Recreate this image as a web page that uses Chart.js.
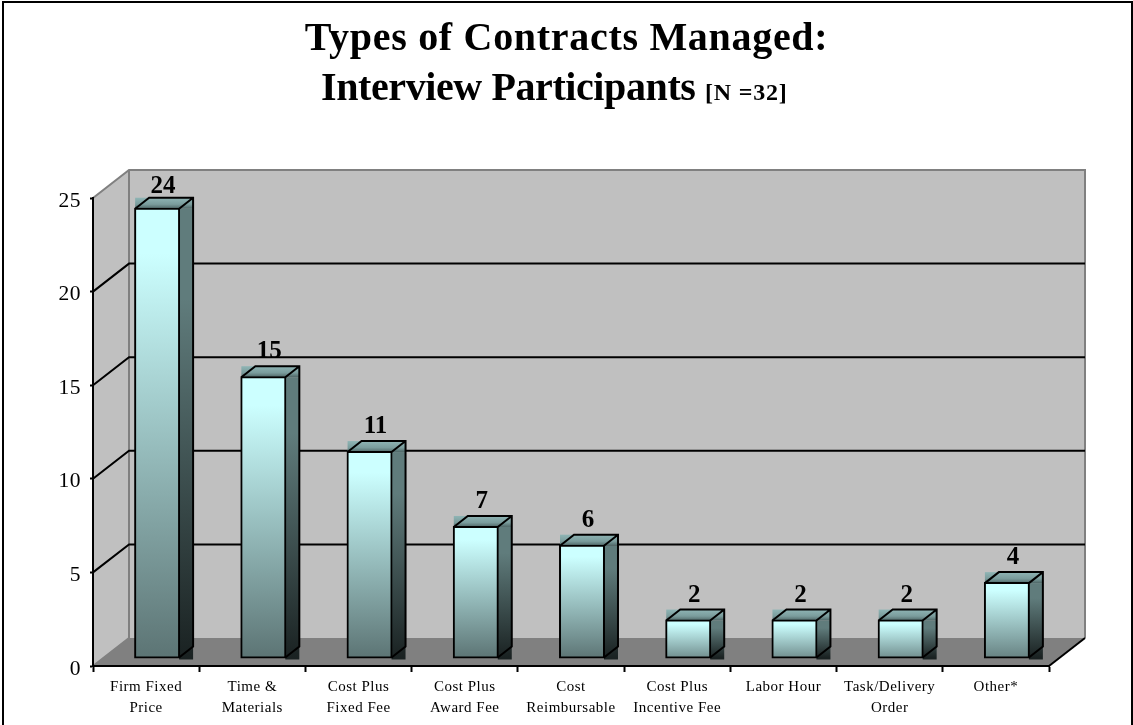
<!DOCTYPE html>
<html><head><meta charset="utf-8">
<style>html,body{margin:0;padding:0;background:#fff}canvas{display:block}</style>
<script src="https://cdn.jsdelivr.net/npm/chart.js@4"></script></head>
<body><div style="width:1133px;height:725px"><canvas id="c" width="1133" height="725"></canvas></div>
<script>
const categories=[["Firm Fixed","Price"],["Time &","Materials"],["Cost Plus","Fixed Fee"],["Cost Plus","Award Fee"],["Cost","Reimbursable"],["Cost Plus","Incentive Fee"],["Labor Hour"],["Task/Delivery","Order"],["Other*"]];
const values=[24,15,11,7,6,2,2,2,4];
const yMax=25, yStep=5;
const titleLine1="Types of Contracts Managed:";
const titleLine2="Interview Participants";
const titleNote="[N =32]";
const SERIF='"Liberation Serif", serif';
const WALL={dx:36,dy:-28}, FRONT={dx:11,dy:-8}, SIDE={dx:14,dy:-11};

function mix(a,b,t){return a.map((v,i)=>Math.round(v+(b[i]-v)*t));}
function rgb(c){return `rgb(${c[0]},${c[1]},${c[2]})`;}
function frontFill(ctx){
  if(ctx.type!=='data')return '#ccffff';
  const c=ctx.chart, y=c.scales.y; if(!y)return '#ccffff';
  const v=values[ctx.dataIndex], top=y.getPixelForValue(v), bot=y.getPixelForValue(0);
  if(!isFinite(top)||!isFinite(bot)||top===bot)return '#ccffff';
  const g=c.ctx.createLinearGradient(0,top,0,bot);
  const t=Math.min(1,0.72+0.045*v);
  g.addColorStop(0,'#ccffff');
  g.addColorStop(0.1,'#ccffff');
  g.addColorStop(1,rgb(mix([204,255,255],[92,116,116],t)));
  return g;
}
const deco={id:'deco',
 beforeDraw(c){
  const g=c.ctx,x=c.scales.x,y=c.scales.y,L=x.left,R=x.right,T=y.getPixelForValue(yMax),B=y.getPixelForValue(0);
  const dx=WALL.dx,dy=WALL.dy;
  g.letterSpacing='0.5px';
  g.save();
  g.fillStyle='#fff';g.fillRect(0,0,c.width,c.height);
  g.strokeStyle='#000';g.lineWidth=2;g.strokeRect(3,2,1129,740);
  g.fillStyle='#000';g.textBaseline='alphabetic';
  g.font='bold 40px '+SERIF;g.textAlign='center';g.letterSpacing='0.7px';
  g.fillText(titleLine1,566.5,50);
  g.textAlign='left';g.letterSpacing='-0.4px';
  g.fillText(titleLine2,321,100);
  g.font='bold 24px '+SERIF;g.letterSpacing='0.8px';
  g.fillText(titleNote,705,100);
  g.fillStyle='#c0c0c0';
  g.fillRect(L+dx,T+dy,R-L,B-T);
  g.beginPath();g.moveTo(L,T);g.lineTo(L+dx,T+dy);g.lineTo(L+dx,B+dy);g.lineTo(L,B);g.closePath();g.fill();
  g.fillStyle='#808080';
  g.beginPath();g.moveTo(L,B);g.lineTo(R,B);g.lineTo(R+dx,B+dy);g.lineTo(L+dx,B+dy);g.closePath();g.fill();
  g.strokeStyle='#808080';g.lineWidth=2;
  g.beginPath();g.moveTo(L,T);g.lineTo(L+dx,T+dy);g.lineTo(R+dx,T+dy);g.lineTo(R+dx,B+dy);
  g.moveTo(L+dx,T+dy);g.lineTo(L+dx,B+dy);g.lineTo(L,B);g.stroke();
  g.strokeStyle='#000';g.lineWidth=2;
  for(let v=yStep;v<yMax;v+=yStep){
   const p=y.getPixelForValue(v);
   g.beginPath();g.moveTo(L,p);g.lineTo(L+dx,p+dy);g.lineTo(R+dx,p+dy);g.stroke();
  }
  g.beginPath();g.moveTo(R,B);g.lineTo(R+dx,B+dy);g.stroke();
  g.restore();
 },
 beforeDatasetsDraw(c){
  const g=c.ctx,m=c.getDatasetMeta(0),sx=SIDE.dx,sy=SIDE.dy;
  m.data.forEach(b=>{
   const l=b.x-b.width/2+FRONT.dx,r=b.x+b.width/2+FRONT.dx,t=b.y+FRONT.dy,o=b.base+FRONT.dy;
   let s=g.createLinearGradient(0,t,0,o);
   s.addColorStop(0,'#607c7c');s.addColorStop(0.2,'#607c7c');s.addColorStop(1,'#1a2222');
   g.fillStyle=s;g.fillRect(r,t,sx,o-t+2);
   s=g.createLinearGradient(0,t+sy,0,t);
   s.addColorStop(0,'#8fb5b5');s.addColorStop(0.6,'#7a9c9c');s.addColorStop(1,'#4e6666');
   g.fillStyle=s;g.fillRect(l,t+sy,r-l+sx,-sy);
  });
  g.save();g.translate(FRONT.dx,FRONT.dy);
 },
 afterDatasetsDraw(c){
  const g=c.ctx,m=c.getDatasetMeta(0),sx=SIDE.dx,sy=SIDE.dy;
  g.restore();g.save();
  g.strokeStyle='#000';g.lineWidth=2;g.fillStyle='#000';g.letterSpacing='0px';
  g.font='bold 25px '+SERIF;g.textAlign='center';g.textBaseline='alphabetic';
  m.data.forEach((b,i)=>{
   const l=b.x-b.width/2+FRONT.dx,r=b.x+b.width/2+FRONT.dx,t=b.y+FRONT.dy,o=b.base+FRONT.dy;
   g.beginPath();
   g.moveTo(l,t);g.lineTo(l+sx,t+sy);g.lineTo(r+sx,t+sy);g.lineTo(r+sx,o+sy);g.lineTo(r,o);
   g.moveTo(r,t);g.lineTo(r+sx,t+sy);
   g.stroke();
   g.fillText(String(values[i]),(l+r+sx)/2-1,Math.max(t+sy-8,193));
  });
  g.restore();
 }};
new Chart(document.getElementById('c'),{
 type:'bar',
 data:{labels:categories,datasets:[{data:values,backgroundColor:frontFill,borderColor:'#000',borderWidth:2,inflateAmount:1,borderSkipped:false,barPercentage:0.414,categoryPercentage:1,clip:false}]},
 plugins:[deco],
 options:{responsive:false,animation:false,events:[],
  layout:{padding:{left:0,right:84,top:198,bottom:0}},
  plugins:{legend:{display:false},tooltip:{enabled:false},title:{display:false}},
  scales:{
   x:{afterFit(s){s.height=59;},border:{color:'#000',width:2},
      grid:{display:true,drawOnChartArea:false,drawTicks:true,tickLength:6,tickWidth:2,tickColor:'#000',offset:true},
      ticks:{color:'#000',font:{family:SERIF,size:15,lineHeight:1.43},maxRotation:0,autoSkip:false,padding:4}},
   y:{min:0,max:yMax,afterFit(s){s.width=93;},border:{color:'#000',width:2},
      grid:{drawOnChartArea:false,drawTicks:true,tickLength:3,tickWidth:2,tickColor:'#000'},
      ticks:{stepSize:yStep,color:'#000',font:{family:SERIF,size:21.5},padding:9,labelOffset:3}}
  }}});
</script></body></html>
